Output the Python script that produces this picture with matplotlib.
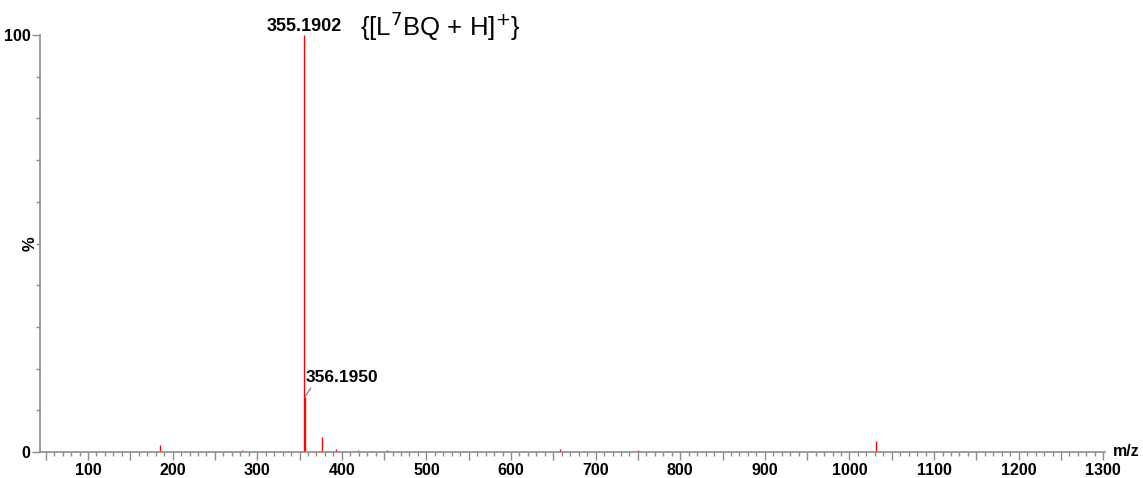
import matplotlib
matplotlib.use("Agg")
import matplotlib.pyplot as plt
from matplotlib.ticker import MultipleLocator

plt.rcParams['font.family'] = ['Liberation Sans', 'DejaVu Sans']

# Centroided peaks: m/z and relative intensity (%)
mz = [120, 131, 158, 172, 185.1, 205, 221, 243, 262, 282.2, 300, 318,
      355.1902, 356.1950, 377.17, 393.15, 419.1, 453.2, 480, 512, 546,
      657.3, 679, 750.4, 1031.4]
intensity = [0.2, 0.2, 0.3, 0.2, 1.7, 0.2, 0.2, 0.3, 0.2, 0.5, 0.2, 0.2,
             100.0, 13.2, 3.6, 0.8, 0.5, 0.4, 0.2, 0.3, 0.3,
             0.8, 0.3, 0.4, 2.6]

base_label = "355.1902"
iso_label = "356.1950"
species = r"{[L$^7$BQ + H]$^{+}$}"

x_min, x_max = 43.3, 1302
axis_grey = "#8c8c8c"

fig = plt.figure(figsize=(11.43, 4.78), dpi=100)
ax = fig.add_axes([40 / 1143, 1 - 452 / 478, (1105 - 40) / 1143, (452 - 35) / 478])

ax.vlines(mz, 0, intensity, colors="red", linewidth=1.0)

ax.set_xlim(x_min, x_max)
ax.set_ylim(0, 100)

for side in ("top", "right"):
    ax.spines[side].set_visible(False)
for side in ("left", "bottom"):
    ax.spines[side].set_color(axis_grey)
    ax.spines[side].set_linewidth(1.2)

# x ticks: every 50 (labelled on the hundreds), minor every 10
x_major = list(range(50, 1301, 50))
ax.set_xticks(x_major)
ax.set_xticklabels([str(v) if v % 100 == 0 else "" for v in x_major])
ax.xaxis.set_minor_locator(MultipleLocator(10))
ax.set_yticks([0, 100])
ax.yaxis.set_minor_locator(MultipleLocator(10))
ax.tick_params(axis="both", which="major", color=axis_grey, length=6, width=1,
               labelsize=11.5, labelcolor="black")
ax.tick_params(axis="both", which="minor", color=axis_grey, length=3, width=1)
ax.tick_params(axis="x", which="major", pad=2)
ax.tick_params(axis="y", which="major", pad=1)
for lab in ax.get_xticklabels() + ax.get_yticklabels():
    lab.set_fontweight("bold")

ax.text(1.0 + 8 / 1065, 0, "m/z", transform=ax.transAxes, ha="left", va="center",
        fontsize=11.5, fontweight="bold")
ax.text(-10 / 1065, 0.5, "%", transform=ax.transAxes, rotation=90,
        ha="center", va="center", fontsize=12, fontweight="bold")

# Peak annotations
ax.text(mz[12], 102.0, base_label, ha="center", va="center",
        fontsize=13, fontweight="bold", clip_on=False)
ax.text(421, 102.0, species, ha="left", va="center", fontsize=18.5,
        clip_on=False)
ax.annotate(iso_label, xy=(mz[13], intensity[13]), xytext=(mz[13] + 1, 16.0),
            ha="left", va="bottom", fontsize=12.5, fontweight="bold",
            arrowprops=dict(arrowstyle="-", color="#707070", lw=0.8,
                            shrinkA=0, shrinkB=0,
                            relpos=(0.1, 0.0)))

fig.savefig("out.png", dpi=100)
